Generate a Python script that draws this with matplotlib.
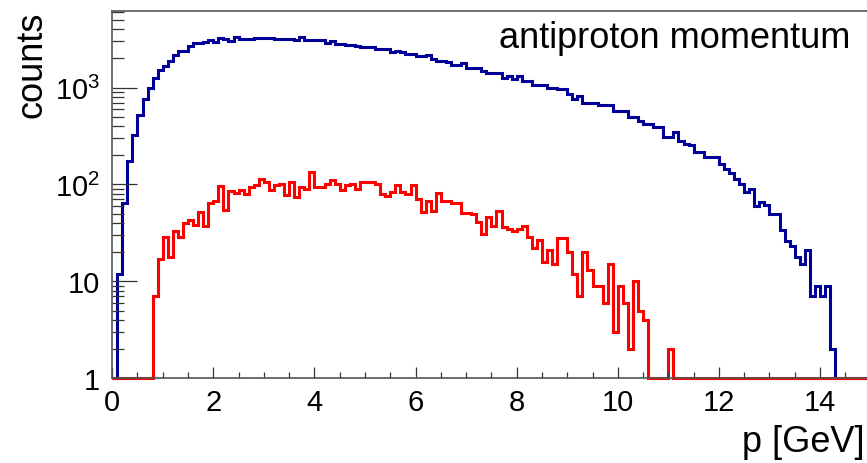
import numpy as np
import matplotlib.pyplot as plt
from matplotlib.ticker import FixedLocator, FixedFormatter, MultipleLocator, LogLocator, NullFormatter

plt.rcParams["font.family"] = ["Liberation Sans", "DejaVu Sans"]
plt.rcParams["mathtext.fontset"] = "custom"
plt.rcParams["mathtext.rm"] = "Liberation Sans"

# 0.1 GeV bins from 0 to 15 GeV
edges = np.linspace(0, 15, 151)

# all antiprotons
all_counts = [
    0, 12, 65, 175, 322, 522, 757, 1000, 1247, 1518,
    1670, 1880, 2153, 2385, 2385, 2685, 2905, 2905, 2980, 3075,
    2955, 3275, 3200, 3020, 3300, 3170, 3170, 3170, 3250, 3250,
    3250, 3250, 3170, 3170, 3170, 3170, 3125, 3300, 3125, 3125,
    3125, 3125, 2905, 3000, 2840, 2840, 2730, 2730, 2650, 2624,
    2624, 2624, 2483, 2483, 2483, 2350, 2400, 2350, 2240, 2240,
    2117, 2117, 2150, 1990, 1880, 1880, 1850, 1698, 1698, 1780,
    1607, 1607, 1607, 1483, 1403, 1403, 1403, 1268, 1300, 1218,
    1300, 1170, 1170, 1056, 1056, 1056, 1000, 1000, 960, 960,
    853, 769, 819, 700, 700, 700, 657, 657, 657, 574,
    574, 574, 502, 502, 453, 419, 419, 387, 387, 305,
    305, 344, 282, 260, 254, 214, 214, 194, 194, 194,
    162, 146, 131, 115, 101, 83, 89, 60, 66, 61,
    49, 49, 34, 26, 23, 18, 15, 21, 7, 9,
    7, 9, 2, 0, 0, 0, 0, 0, 0, 0,
]

# selected subsample
sel_counts = [
    0, 0, 0, 0, 0, 0, 0, 0, 7, 17,
    29, 18, 33, 29, 40, 43, 38, 52, 37, 64,
    68, 97, 54, 86, 81, 88, 79, 95, 98, 115,
    106, 88, 98, 101, 78, 105, 75, 93, 89, 135,
    93, 93, 101, 111, 101, 88, 98, 101, 89, 105,
    105, 105, 102, 79, 76, 83, 99, 83, 79, 98,
    71, 52, 67, 53, 81, 67, 67, 65, 65, 51,
    51, 50, 41, 31, 46, 37, 53, 36, 35, 33,
    35, 37, 29, 22, 27, 16, 21, 15, 28, 28,
    20, 12, 7, 20, 13, 9, 9, 6, 15, 3,
    9, 6, 2, 10, 5, 4, 0, 0, 0, 0,
    2, 0, 0, 0, 0, 0, 0, 0, 0, 0,
    0, 0, 0, 0, 0, 0, 0, 0, 0, 0,
    0, 0, 0, 0, 0, 0, 0, 0, 0, 0,
    0, 0, 0, 0, 0, 0, 0, 0, 0, 0,
]

ytick_vals = [1, 10, 100, 1000]
ytick_labels = ["1", "10", r"$\mathregular{10^{2}}$", r"$\mathregular{10^{3}}$"]

W, H = 867, 464
fig = plt.figure(figsize=(W / 100, H / 100), dpi=100)
ax = fig.add_axes([112.2 / W, 84.7 / H, 758.4 / W, 367.6 / H])

# empty bins sit on the frame bottom, like ROOT does on a log axis
ax.stairs(np.maximum(all_counts, 1), edges, baseline=None,
          color="#000099", linewidth=2.2, clip_on=False)
ax.stairs(np.maximum(sel_counts, 1), edges, baseline=None,
          color="#ff0000", linewidth=2.2, clip_on=False)

ax.set_xlim(0, 15)
ax.set_yscale("log")
ax.set_ylim(1, 6200)

ax.xaxis.set_major_locator(MultipleLocator(2))
ax.xaxis.set_minor_locator(MultipleLocator(0.5))
ax.yaxis.set_major_locator(FixedLocator(ytick_vals))
ax.yaxis.set_major_formatter(FixedFormatter(ytick_labels))
ax.yaxis.set_minor_locator(LogLocator(base=10, subs=np.arange(2, 10)))
ax.yaxis.set_minor_formatter(NullFormatter())

ax.tick_params(which="both", direction="in", top=False, right=False,
               width=0.9, color="#333333", labelsize=21)
ax.tick_params(axis="y", which="major", length=17.8, pad=9)
ax.tick_params(axis="y", which="minor", length=8.9)
ax.tick_params(axis="x", which="major", length=7.9, pad=7)
ax.tick_params(axis="x", which="minor", length=4.3)

for s in ax.spines.values():
    s.set_color("#555555")
    s.set_linewidth(1.2)

fig.text(850 / W, 1 - 48 / H, "antiproton momentum",
         ha="right", va="baseline", fontsize=26)
fig.text(865 / W, 1 - 452 / H, "p [GeV]",
         ha="right", va="baseline", fontsize=26)
fig.text(32 / W, 1 - 12 / H, "counts", rotation=90,
         ha="center", va="top", fontsize=26)

fig.savefig("out.png", dpi=100)
